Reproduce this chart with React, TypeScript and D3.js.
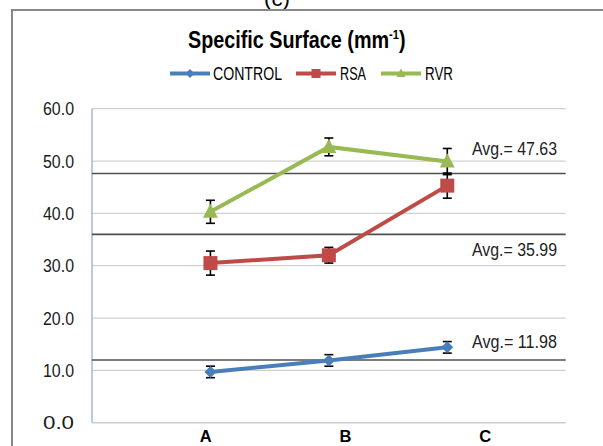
import React from "react";
import * as d3 from "d3";

// values
const categories = ["A", "B", "C"];
const controlValues = [9.7, 11.9, 14.4];
const rsaValues = [30.5, 32.0, 45.3];
const rvrValues = [40.3, 52.7, 49.9];
const controlErrors = [1.1, 1.1, 1.1];
const rsaErrors = [2.3, 1.5, 2.4];
const rvrErrors = [2.2, 1.7, 2.5];
const averages = [47.63, 35.99, 11.98];
const averageLabels = ["Avg.= 47.63", "Avg.= 35.99", "Avg.= 11.98"];
const yTicks = [0, 10, 20, 30, 40, 50, 60];

const W = 603;
const H = 446;
// the original uses a narrow face (Calibri); squeeze Liberation Sans with textLength
const FONT = "'Liberation Sans', Arial, sans-serif";

type Series = { name: string; values: number[]; errors: number[]; color: string; marker: string };

const series: Series[] = [
  { name: "CONTROL", values: controlValues, errors: controlErrors, color: "#4a7ebb", marker: "diamond" },
  { name: "RSA", values: rsaValues, errors: rsaErrors, color: "#be4b48", marker: "square" },
  { name: "RVR", values: rvrValues, errors: rvrErrors, color: "#98b954", marker: "triangle" },
];

// marker shapes centred on 0,0
const markerPath = (kind: string, s: number) => {
  if (kind === "diamond") return `M0,${-s}L${s},0L0,${s}L${-s},0Z`;
  if (kind === "square") return `M${-s},${-s}H${s}V${s}H${-s}Z`;
  return `M0,${-s * 1.1}L${s},${s * 0.8}L${-s},${s * 0.8}Z`;
};
const markerSize: Record<string, number> = { diamond: 6, square: 7, triangle: 7.5 };

export default function App() {
  const plot = { left: 92, right: 565.7, top: 108.7, bottom: 422.7 };

  const x = d3.scalePoint<string>().domain(categories).range([plot.left, plot.right]).padding(1);
  // category labels sit on their own, slightly wider spacing
  const xLabel = d3.scalePoint<string>().domain(categories).range([136, 555]).padding(0.5);
  const y = d3.scaleLinear().domain([0, 60]).range([plot.bottom, plot.top]);

  const line = d3
    .line<number>()
    .x((_, i) => x(categories[i]) as number)
    .y((d) => y(d));

  // avg label offsets relative to their line (above / below)
  const avgOffsets = [-18, 21.5, -12];

  const legendItems = [
    { lineX: 170, textX: 213, w: 69 },
    { lineX: 296, textX: 340, w: 26 },
    { lineX: 381, textX: 425, w: 28 },
  ];

  return (
    <svg width={W} height={H} style={{ position: "absolute", left: 0, top: 0, background: "#fff" }} fontFamily={FONT}>
      <rect x={0} y={0} width={W} height={H} fill="#fff" />
      {/* partial caption above the frame */}
      <text x={264} y={6} fontSize={20} fill="#000" textLength={26} lengthAdjust="spacingAndGlyphs">(c)</text>
      {/* outer frame */}
      <rect x={12} y={10} width={620} height={460} fill="none" stroke="#888" strokeWidth={2} />

      {/* title, squeezed horizontally to the narrow original face */}
      <text transform="translate(188,48) scale(0.86,1)" fontSize={23} fontWeight="bold" fill="#000">
        Specific Surface (mm
        <tspan fontSize={13} dy={-9}>-1</tspan>
        <tspan dy={9}>)</tspan>
      </text>

      {/* legend */}
      {series.map((s, i) => (
        <g key={s.name}>
          <line x1={legendItems[i].lineX} x2={legendItems[i].lineX + 40} y1={73.5} y2={73.5} stroke={s.color} strokeWidth={4} />
          <path
            d={markerPath(s.marker, 4.5)}
            transform={`translate(${legendItems[i].lineX + 20},73.5)`}
            fill={s.color}
          />
          <text x={legendItems[i].textX} y={80} fontSize={17.5} fill="#000" textLength={legendItems[i].w} lengthAdjust="spacingAndGlyphs">
            {s.name}
          </text>
        </g>
      ))}

      {/* gridlines */}
      {yTicks.filter((t) => t > 0).map((t) => (
        <line key={t} x1={plot.left} x2={plot.right} y1={y(t)} y2={y(t)} stroke="#d0d0d0" strokeWidth={1.2} />
      ))}
      {/* axes */}
      <line x1={plot.left} x2={plot.left} y1={plot.top} y2={plot.bottom} stroke="#9db8dc" strokeWidth={1.5} />
      <line x1={plot.left} x2={plot.right} y1={plot.bottom} y2={plot.bottom} stroke="#c8ccd4" strokeWidth={1.5} />

      {/* y tick labels */}
      {yTicks.map((t) => (
        <text key={t} x={43} y={y(t) + 6.5} fontSize={17.5} fill="#1a1a1a" textLength={31} lengthAdjust="spacingAndGlyphs">
          {d3.format(".1f")(t)}
        </text>
      ))}
      {/* x labels */}
      {categories.map((c) => (
        <text key={c} x={xLabel(c)} y={442} textAnchor="middle" fontSize={16.5} fontWeight="bold" fill="#000">{c}</text>
      ))}

      {/* average lines */}
      {averages.map((a, i) => (
        <g key={a}>
          <line x1={plot.left} x2={plot.right} y1={y(a)} y2={y(a)} stroke="#505050" strokeWidth={1.6} />
          <text x={472} y={y(a) + avgOffsets[i]} fontSize={17.5} fill="#222" textLength={85} lengthAdjust="spacingAndGlyphs">
            {averageLabels[i]}
          </text>
        </g>
      ))}

      {/* series lines */}
      {series.map((s) => (
        <path key={s.name} d={line(s.values) as string} fill="none" stroke={s.color} strokeWidth={4} />
      ))}

      {/* error bars */}
      {series.map((s) =>
        s.values.map((v, i) => {
          const cx = x(categories[i]) as number;
          const top = y(v + s.errors[i]);
          const bot = y(v - s.errors[i]);
          return (
            <g key={s.name + i} stroke="#000" strokeWidth={1.6}>
              <line x1={cx} x2={cx} y1={top} y2={bot} />
              <line x1={cx - 4.5} x2={cx + 4.5} y1={top} y2={top} />
              <line x1={cx - 4.5} x2={cx + 4.5} y1={bot} y2={bot} />
            </g>
          );
        })
      )}

      {/* markers */}
      {series.map((s) =>
        s.values.map((v, i) => (
          <path
            key={s.name + "m" + i}
            d={markerPath(s.marker, markerSize[s.marker])}
            transform={`translate(${x(categories[i])},${y(v)})`}
            fill={s.color}
          />
        ))
      )}
    </svg>
  );
}
